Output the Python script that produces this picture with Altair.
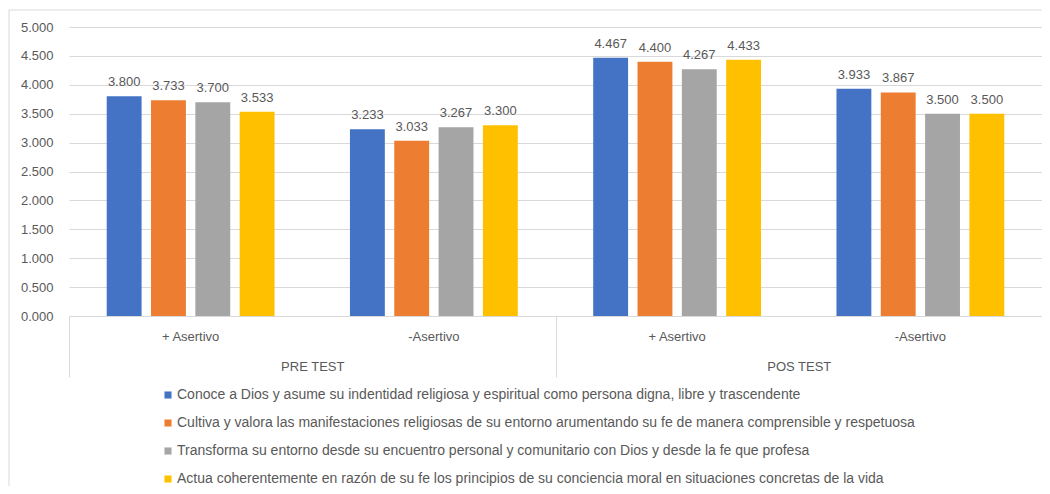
import altair as alt
import pandas as pd

groups = ["PRE TEST", "PRE TEST", "POS TEST", "POS TEST"]
subcats = ["+ Asertivo", "-Asertivo", "+ Asertivo", "-Asertivo"]
series = [
    "Conoce a Dios y asume su indentidad religiosa y espiritual como persona digna, libre y trascendente",
    "Cultiva y valora las manifestaciones religiosas de su entorno arumentando su fe de manera comprensible y respetuosa",
    "Transforma su entorno desde su encuentro personal y comunitario con Dios y desde la fe que profesa",
    "Actua coherentemente en razón de su fe los principios de su conciencia moral en situaciones concretas de la vida",
]
colors = ["#4472C4", "#ED7D31", "#A5A5A5", "#FFC000"]
values = [
    [3.800, 3.733, 3.700, 3.533],
    [3.233, 3.033, 3.267, 3.300],
    [4.467, 4.400, 4.267, 4.433],
    [3.933, 3.867, 3.500, 3.500],
]
group_order = ["PRE TEST", "POS TEST"]
y_ticks = [0, 0.5, 1, 1.5, 2, 2.5, 3, 3.5, 4, 4.5, 5]

rows = []
for i, (g, s) in enumerate(zip(groups, subcats)):
    for j, name in enumerate(series):
        rows.append({"cat": f"{g}|{s}", "group": g, "series": name, "sidx": j, "value": values[i][j]})
df = pd.DataFrame(rows)
cat_order = [f"{g}|{s}" for g, s in zip(groups, subcats)]

FONT = "Liberation Sans"
TXT = "#595959"
GRID = "#d9d9d9"
W, H = 973, 289

y_axis = alt.Axis(values=y_ticks, format=".3f", domain=False, ticks=False, labelOverlap=False,
                  gridColor=GRID, labelColor=TXT, labelFontSize=13, labelFont=FONT,
                  labelPadding=16)
y_enc = alt.Y("value:Q", title=None, scale=alt.Scale(domain=[0, 5], nice=False), axis=y_axis)

x_enc = alt.X(
    "cat:N", sort=cat_order, title=None,
    scale=alt.Scale(paddingInner=0.31, paddingOuter=0.155),
    axis=alt.Axis(labelExpr="split(datum.label, '|')[1]", labelAngle=0, ticks=False, orient="bottom",
                  domainColor=GRID, labelColor=TXT, labelFontSize=13, labelFont=FONT,
                  labelPadding=14),
)
xoff = alt.XOffset("series:N", sort=series, scale=alt.Scale(paddingInner=0.213, paddingOuter=0))

bars = alt.Chart(df).mark_bar().encode(
    x=x_enc,
    xOffset=xoff,
    y=y_enc,
    color=alt.Color("series:N", sort=series, scale=alt.Scale(domain=series, range=colors),
                    legend=alt.Legend(title=None, orient="none", legendX=92, legendY=361,
                                      direction="vertical", symbolType="square", symbolSize=50,
                                      symbolStrokeWidth=0, labelLimit=1000, labelFontSize=14,
                                      labelFont=FONT, labelColor=TXT, rowPadding=14,
                                      labelOffset=2)),
)

labels = alt.Chart(df).mark_text(baseline="bottom", dy=-7, fontSize=13, font=FONT, color=TXT).encode(
    x=x_enc,
    xOffset=xoff,
    y=y_enc,
    text=alt.Text("value:Q", format=".3f"),
)

grp_df = pd.DataFrame({"group": group_order})
grp = alt.Chart(grp_df).mark_text(opacity=0, text=" ").encode(
    x=alt.X("group:N", sort=group_order, title=None,
            scale=alt.Scale(paddingInner=0, paddingOuter=0),
            axis=alt.Axis(labelAngle=0, domain=False, tickBand="extent", tickSize=61, orient="bottom",
                          tickColor=GRID, labelColor=TXT, labelFontSize=13, labelFont=FONT,
                          labelPadding=-17)),
)

border = alt.Chart(pd.DataFrame({"k": [1]})).mark_rule(color=GRID).encode(
    x=alt.value(-60), y=alt.value(-17), y2=alt.value(480)
)
border2 = alt.Chart(pd.DataFrame({"k": [1]})).mark_rule(color=GRID).encode(
    x=alt.value(-60), x2=alt.value(1000), y=alt.value(-17)
)

chart = (
    alt.layer(bars + labels, grp, border, border2)
    .resolve_scale(x="independent")
    .properties(width=W, height=H, autosize=alt.AutoSizeParams(type="none"),
                padding={"left": 61, "top": 19, "right": 0, "bottom": 170})
    .configure_view(stroke=None)
)

chart.save("out.html", embed_options={"renderer": "svg", "actions": False})
